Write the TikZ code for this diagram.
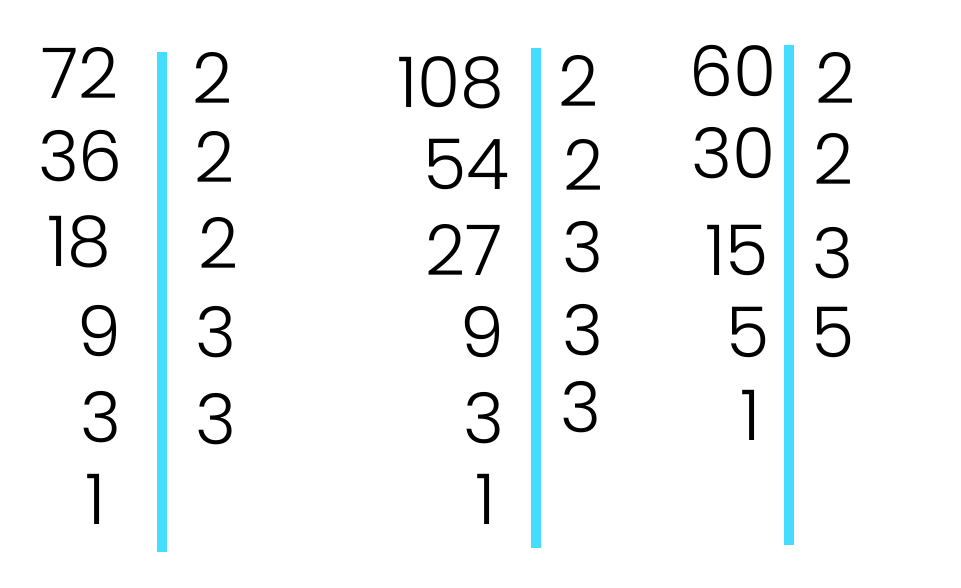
\documentclass[tikz,border=0pt]{standalone}
\usepackage{fontspec}
\setmainfont{Poppins}[UprightFont=* Light]
\usepackage{tikz}
\definecolor{barblue}{RGB}{69,221,255}

\begin{document}
\begin{tikzpicture}[x=1pt, y=-1pt,
        num/.style = {inner sep=0pt, anchor=base, font=\fontsize{70}{84}\selectfont},
        bar/.style = {barblue, line width=9.5pt}]
        \useasboundingbox (0, 0) rectangle (961, 588);
        % first column: 72
        \node[num] (72) at (80, 99) {72};
        \node[num] (36) at (80.5, 182) {36};
        \node[num] (18) at (79.5, 266) {18};
        \node[num] (72 9) at (99, 356) {9};
        \node[num] (72 3) at (101, 442) {3};
        \node[num] (72 1) at (95.5, 524) {1};
        \node[num] (72 f1) at (213, 104) {2};
        \node[num] (72 f2) at (214.5, 183) {2};
        \node[num] (72 f3) at (218.5, 268) {2};
        \node[num] (72 f4) at (216, 357) {3};
        \node[num] (72 f5) at (216, 444) {3};
        % second column: 108
        \node[num] (108) at (451, 108) {108};
        \node[num] (54) at (466.5, 190) {54};
        \node[num] (27) at (464, 275) {27};
        \node[num] (108 9) at (482, 357) {9};
        \node[num] (108 3) at (484, 443) {3};
        \node[num] (108 1) at (485.5, 524) {1};
        \node[num] (108 f1) at (579, 107) {2};
        \node[num] (108 f2) at (583.5, 191) {2};
        \node[num] (108 f3) at (583, 272) {3};
        \node[num] (108 f4) at (583, 355) {3};
        \node[num] (108 f5) at (581, 432) {3};
        % third column: 60
        \node[num] (60) at (733, 97) {60};
        \node[num] (30) at (733.5, 179) {30};
        \node[num] (15) at (737, 275) {15};
        \node[num] (60 5) at (748.5, 357) {5};
        \node[num] (60 1) at (751, 440) {1};
        \node[num] (60 f1) at (836, 104) {2};
        \node[num] (60 f2) at (834, 185) {2};
        \node[num] (60 f3) at (833, 278) {3};
        \node[num] (60 f4) at (833, 357) {5};
        % bars
        \coordinate (Bar 72 Top) at (162, 52);
        \coordinate (Bar 72 Bottom) at (162, 552);
        \coordinate (Bar 108 Top) at (536, 48);
        \coordinate (Bar 108 Bottom) at (536, 548);
        \coordinate (Bar 60 Top) at (789, 45);
        \coordinate (Bar 60 Bottom) at (789, 545);
        \draw[bar] (Bar 72 Top) -- (Bar 72 Bottom);
        \draw[bar] (Bar 108 Top) -- (Bar 108 Bottom);
        \draw[bar] (Bar 60 Top) -- (Bar 60 Bottom);
    \end{tikzpicture}
\end{document}
